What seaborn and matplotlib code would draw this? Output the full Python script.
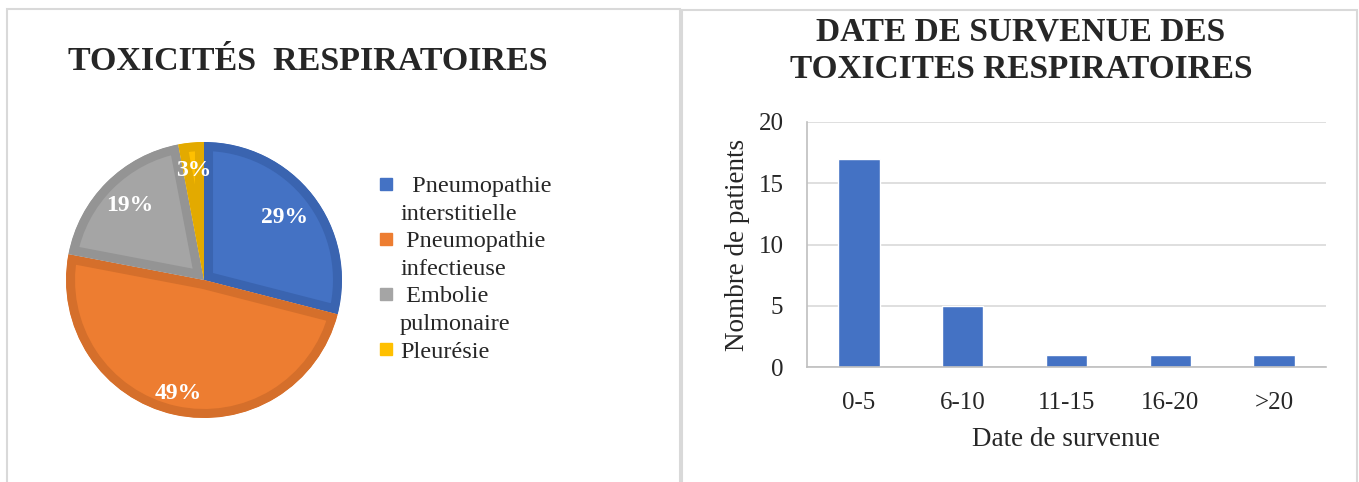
import matplotlib
matplotlib.use("Agg")
import numpy as np
import matplotlib.pyplot as plt
from matplotlib.patches import Rectangle, Wedge
from matplotlib.lines import Line2D
import seaborn as sns
import pandas as pd

# left chart: types of respiratory toxicity (percent)
tox_names = ["Pneumopathie interstitielle", "Pneumopathie infectieuse",
             "Embolie pulmonaire", "Pleurésie"]
tox_pct = [29, 49, 19, 3]
# legend rows as printed in the original (first line next to the swatch)
legend_rows = ["  Pneumopathie", "interstitielle", " Pneumopathie", "infectieuse",
               " Embolie", "pulmonaire", "Pleurésie"]
legend_swatch = [0, None, 1, None, 2, None, 3]
pie_colors = ["#4472C4", "#ED7D31", "#A5A5A5", "#FFC000"]
edge_colors = ["#3A64B0", "#D56F2B", "#949494", "#E3AA00"]
pct_dist = [0.74, 0.84, 0.76, 0.80]

# right chart: onset delay
delays = ["0-5", "6-10", "11-15", "16-20", ">20"]
patients = [17, 5, 1, 1, 1]

sns.set_style("white")
plt.rcParams["font.family"] = ["Liberation Serif", "DejaVu Serif"]

fig = plt.figure(figsize=(13.59, 4.82), dpi=100)
W, H = 1359, 482

# panel frames
for x0, x1, y0 in [(7, 680, 9), (682, 1357, 10)]:
    fig.add_artist(Rectangle((x0 / W, -0.05), (x1 - x0) / W, 1.05 - y0 / H,
                             transform=fig.transFigure, fill=False,
                             edgecolor="#d9d9d9", linewidth=1.5))

# ---- pie ----
ax1 = fig.add_axes([66 / W, 1 - 418 / H, 276 / W, 276 / H])
wedges, texts, autotexts = ax1.pie(
    tox_pct, colors=pie_colors, startangle=90, counterclock=False,
    autopct="%.0f%%", pctdistance=0.78,
    textprops=dict(color="white", fontsize=17, fontweight="bold"))
for w, ec, t, d in zip(wedges, edge_colors, autotexts, pct_dist):
    # inner border: thick stroke clipped to the wedge itself
    clip = Wedge(w.center, w.r, w.theta1, w.theta2, transform=ax1.transData)
    w.set_edgecolor(ec)
    w.set_linewidth(13)
    w.set_clip_on(True)
    w.set_clip_path(clip)
    mid = np.deg2rad((w.theta1 + w.theta2) / 2)
    t.set_position((d * np.cos(mid), d * np.sin(mid)))
ax1.set_xlim(-1, 1)
ax1.set_ylim(-1, 1)
ax1.set_aspect("equal")

fig.text(308 / W, 1 - 62 / H, "TOXICITÉS  RESPIRATOIRES", ha="center", va="center",
         fontsize=24.5, fontweight="bold")

handles = []
for i in legend_swatch:
    if i is None:
        handles.append(Line2D([], [], linestyle="none"))
    else:
        handles.append(Line2D([], [], marker="s", linestyle="none", markersize=9,
                              markerfacecolor=pie_colors[i], markeredgecolor=pie_colors[i]))
fig.legend(handles, legend_rows, loc="upper left", bbox_to_anchor=(377 / W, 1 - 175 / H),
           frameon=False, fontsize=17.5, handlelength=0.7, handletextpad=0.25,
           labelspacing=0.23, borderpad=0, borderaxespad=0)

# ---- bars ----
df = pd.DataFrame({"delay": delays, "n": patients})
ax2 = fig.add_axes([807 / W, 1 - 367 / H, (1326 - 807) / W, (367 - 122) / H])
sns.barplot(data=df, x="delay", y="n", color="#4472C4", saturation=1,
            width=0.4, ax=ax2)
ax2.set_ylim(0, 20)
ax2.set_yticks([0, 5, 10, 15, 20])
ax2.grid(axis="y", color="#d9d9d9", linewidth=1.2)
ax2.set_axisbelow(True)
for s in ["top", "right"]:
    ax2.spines[s].set_visible(False)
for s in ["left", "bottom"]:
    ax2.spines[s].set_color("#bfbfbf")
    ax2.spines[s].set_linewidth(1.2)
ax2.tick_params(axis="both", length=0, labelsize=18, colors="#262626")
ax2.tick_params(axis="y", pad=17)
ax2.tick_params(axis="x", pad=18)
ax2.set_xlabel("Date de survenue", fontsize=19.5, color="#262626", labelpad=9)
ax2.set_ylabel("Nombre de patients", fontsize=19.5, color="#262626", labelpad=6)

fig.text(1021 / W, 1 - 51 / H, "DATE DE SURVENUE DES\nTOXICITES RESPIRATOIRES",
         ha="center", va="center", fontsize=24, fontweight="bold", linespacing=1.28)

fig.savefig("out.png", dpi=100, facecolor="white")
